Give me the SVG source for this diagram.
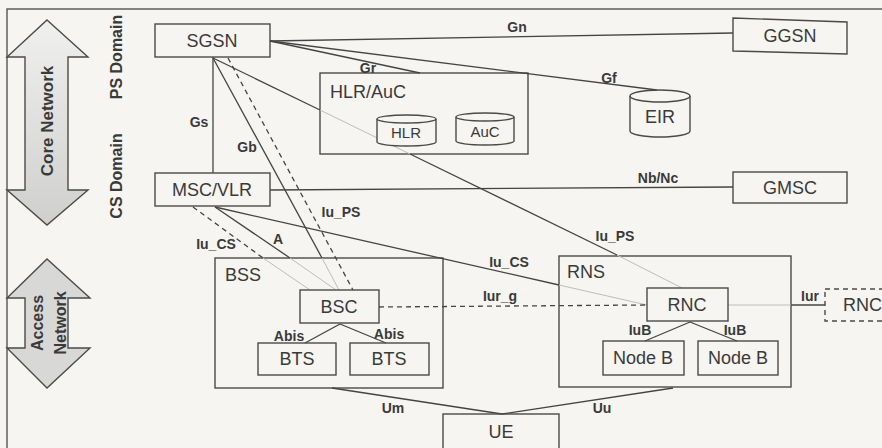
<svg xmlns="http://www.w3.org/2000/svg" width="882" height="448" viewBox="0 0 882 448">
<style>
.box{fill:none;stroke:#4a4a4a;stroke-width:1.4}
.cont{fill:#f6f5f1;stroke:#4a4a4a;stroke-width:1.4}
.ln{fill:none;stroke:#444;stroke-width:1.3}
.fl{fill:none;stroke:#bdbdbd;stroke-width:1}
.ds{stroke-dasharray:5 4}
.t{font-family:"Liberation Sans",Arial,sans-serif;font-size:18px;fill:#3a3a3a;text-anchor:middle;dominant-baseline:central}
.ts{font-size:15px}
.tl{text-anchor:start}
.e{font-family:"Liberation Sans",Arial,sans-serif;font-size:14px;font-weight:bold;fill:#3a3a3a;text-anchor:middle}
.side{font-family:"Liberation Sans",Arial,sans-serif;font-weight:bold;fill:#3a3a3a;text-anchor:middle;dominant-baseline:central}
.cyl{fill:#f6f5f1;stroke:#4a4a4a;stroke-width:1.4}
</style>
<defs>
<linearGradient id="gcore" x1="0" y1="0" x2="0" y2="1">
<stop offset="0" stop-color="#f0f0ee"/>
<stop offset="1" stop-color="#cfcfcd"/>
</linearGradient>
</defs>
<rect x="0" y="0" width="882" height="448" fill="#f6f5f1"/>
<rect x="7" y="9" width="900" height="460" fill="none" stroke="#555" stroke-width="1.4"/>

<g id="core-network-arrow">
<polygon points="47,20 88,57 68,57 68,190 88,190 47,225 7,190 25,190 25,57 7,57" fill="url(#gcore)" stroke="#4a4a4a" stroke-width="1.4"/>
<text class="side" font-size="17" transform="translate(47,121) rotate(-90)">Core Network</text>
</g>
<g id="ps-domain"><text class="side" font-size="16" transform="translate(116,57) rotate(-90)">PS Domain</text></g>
<g id="cs-domain"><text class="side" font-size="16" transform="translate(116,176) rotate(-90)">CS Domain</text></g>
<g id="access-network-arrow">
<polygon points="47,259 90,298 68,298 68,348 90,348 47,388 7,348 25,348 25,298 7,298" fill="#d8d8d6" stroke="#4a4a4a" stroke-width="1.4"/>
<text class="side" font-size="16" transform="translate(37,323) rotate(-90)">Access</text>
<text class="side" font-size="16" transform="translate(60,323) rotate(-90)">Network</text>
</g>

<g id="hlr-auc-container"><rect class="cont" x="320" y="73" width="208" height="81"/></g>
<g id="bss-container"><rect class="cont" x="215" y="258" width="228" height="130"/></g>
<g id="rns-container"><rect class="cont" x="559" y="256" width="232" height="131"/></g>

<g id="connectors">
<line class="ln" x1="213" y1="57" x2="213" y2="173"/>
<line class="ln" x1="270" y1="41" x2="733" y2="33"/>
<line class="ln" x1="270" y1="41" x2="420" y2="73"/>
<line class="ln" x1="270" y1="41" x2="657" y2="90"/>
<line class="ln" x1="213" y1="58" x2="322" y2="258"/>
<line class="fl" x1="322" y1="258" x2="339" y2="290"/>
<line class="ln ds" x1="228" y1="58" x2="353" y2="290"/>
<line class="ln" x1="213" y1="58" x2="320" y2="110"/>
<line class="fl" x1="320" y1="110" x2="410" y2="154"/>
<line class="ln" x1="410" y1="154" x2="617" y2="255"/>
<line class="fl" x1="617" y1="255" x2="682" y2="288"/>
<line class="ln" x1="270" y1="190" x2="733" y2="187"/>
<line class="ln ds" x1="193" y1="207" x2="263" y2="258"/>
<line class="fl" x1="263" y1="258" x2="310" y2="290"/>
<line class="ln" x1="215" y1="207" x2="290" y2="258"/>
<line class="fl" x1="290" y1="258" x2="336" y2="290"/>
<line class="ln" x1="215" y1="207" x2="559" y2="285"/>
<line class="fl" x1="559" y1="285" x2="647" y2="305"/>
<line class="ln ds" x1="379" y1="307" x2="647" y2="305"/>
<line class="ln" x1="340" y1="324" x2="305" y2="343"/>
<line class="ln" x1="340" y1="324" x2="386" y2="343"/>
<line class="ln" x1="690" y1="322" x2="645" y2="341"/>
<line class="ln" x1="690" y1="322" x2="737" y2="341"/>
<line class="fl" x1="728" y1="305" x2="791" y2="305"/>
<line class="ln" x1="791" y1="305" x2="825" y2="305"/>
<line class="ln" x1="332" y1="388" x2="502" y2="414"/>
<line class="ln" x1="673" y1="388" x2="502" y2="414"/>

<text class="e" x="517" y="32">Gn</text>
<text class="e" x="368" y="73">Gr</text>
<text class="e" x="609" y="83">Gf</text>
<text class="e" x="199" y="127">Gs</text>
<text class="e" x="247" y="152">Gb</text>
<text class="e" x="341" y="217">Iu_PS</text>
<text class="e" x="216" y="249">Iu_CS</text>
<text class="e" x="278" y="244">A</text>
<text class="e" x="509" y="267">Iu_CS</text>
<text class="e" x="615" y="241">Iu_PS</text>
<text class="e" x="500" y="301">Iur_g</text>
<text class="e" x="658" y="183">Nb/Nc</text>
<text class="e" x="289" y="341">Abis</text>
<text class="e" x="389" y="339">Abis</text>
<text class="e" x="640" y="335">IuB</text>
<text class="e" x="735" y="335">IuB</text>
<text class="e" x="810" y="301">Iur</text>
<text class="e" x="393" y="413">Um</text>
<text class="e" x="602" y="413">Uu</text>
</g>

<g id="sgsn"><rect class="box" x="155" y="24" width="115" height="33"/><text class="t" x="212" y="41">SGSN</text></g>
<g id="msc-vlr"><rect class="box" x="155" y="173" width="115" height="33"/><text class="t" x="212" y="190">MSC/VLR</text></g>
<g id="ggsn"><polygon class="box" points="733,18 847,22 847,54 733,51"/><text class="t" x="790" y="36">GGSN</text></g>
<g id="gmsc"><rect class="box" x="733" y="172" width="114" height="31"/><text class="t" x="790" y="188">GMSC</text></g>
<g id="hlr-auc"><text class="t tl" x="330" y="92" font-size="19">HLR/AuC</text></g>
<g id="hlr">
<path class="cyl" d="M377,119 L377,142 A29.5,4 0 0 0 436,142 L436,119 A29.5,4 0 0 0 377,119 Z"/>
<path class="cyl" d="M377,119 A29.5,4 0 0 0 436,119"/>
<text class="t ts" x="406" y="132">HLR</text>
</g>
<g id="auc">
<path class="cyl" d="M456,117 L456,141 A29,4 0 0 0 514,141 L514,117 A29,4 0 0 0 456,117 Z"/>
<path class="cyl" d="M456,117 A29,4 0 0 0 514,117"/>
<text class="t ts" x="485" y="131">AuC</text>
</g>
<g id="eir">
<path class="cyl" d="M630,96 L630,131 A30,6 0 0 0 690,131 L690,96 A30,6 0 0 0 630,96 Z"/>
<path class="cyl" d="M630,96 A30,6 0 0 0 690,96"/>
<text class="t" x="660" y="117" font-size="19">EIR</text>
</g>
<g id="bss"><text class="t tl" x="225" y="275" font-size="19">BSS</text></g>
<g id="bsc"><rect class="box" x="300" y="290" width="79" height="33"/><text class="t" x="339" y="307">BSC</text></g>
<g id="bts-1"><rect class="box" x="258" y="343" width="78" height="32"/><text class="t" x="297" y="359">BTS</text></g>
<g id="bts-2"><rect class="box" x="350" y="343" width="79" height="32"/><text class="t" x="389" y="359">BTS</text></g>
<g id="rns"><text class="t tl" x="567" y="272" font-size="20">RNS</text></g>
<g id="rnc"><rect class="box" x="647" y="288" width="81" height="33"/><text class="t" x="687" y="305">RNC</text></g>
<g id="node-b-1"><rect class="box" x="603" y="341" width="81" height="34"/><text class="t" x="643" y="358">Node B</text></g>
<g id="node-b-2"><rect class="box" x="698" y="341" width="80" height="34"/><text class="t" x="738" y="358">Node B</text></g>
<g id="rnc-ext"><rect class="box ds" x="825" y="289" width="80" height="32"/><text class="t tl" x="843" y="305" font-size="16">RNC</text></g>
<g id="ue"><rect class="box" x="443" y="414" width="116" height="40"/><text class="t" x="501" y="432" font-size="19">UE</text></g>
</svg>
